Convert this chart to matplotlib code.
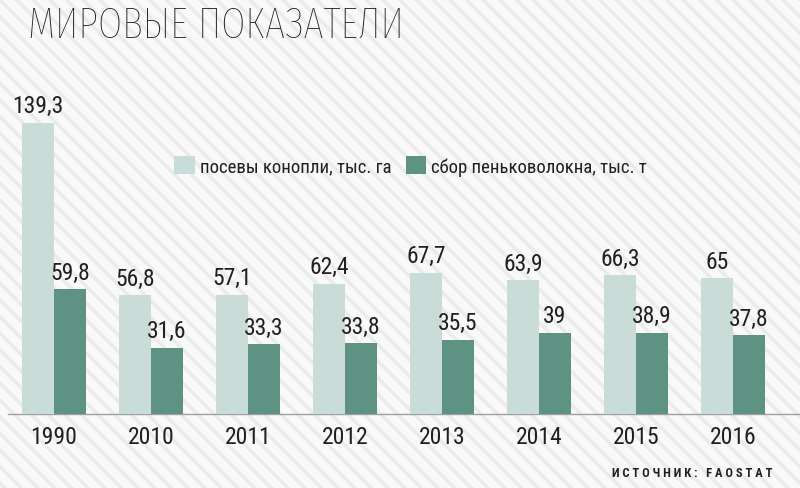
import matplotlib.pyplot as plt
import numpy as np
from matplotlib.patches import Rectangle

# данные
years = ["1990", "2010", "2011", "2012", "2013", "2014", "2015", "2016"]
sowing = [139.3, 56.8, 57.1, 62.4, 67.7, 63.9, 66.3, 65]
fiber = [59.8, 31.6, 33.3, 33.8, 35.5, 39, 38.9, 37.8]
labels = ["посевы конопли, тыс. га", "сбор пеньковолокна, тыс. т"]
title = "МИРОВЫЕ ПОКАЗАТЕЛИ"
source = "И С Т О Ч Н И К :   F A O S T A T"

light = "#c9dcd7"
dark = "#5e9282"
txt = "#231f20"
fam = ["Roboto Condensed", "DejaVu Sans"]
title_fam = ["Fira Sans Extra Condensed", "Roboto Condensed", "DejaVu Sans"]

plt.rcParams["font.family"] = fam
plt.rcParams["hatch.linewidth"] = 2.5

fig = plt.figure(figsize=(8, 4.89), dpi=100)
# фон в косую полоску
fig.patches.append(Rectangle((0, 0), 1, 1, transform=fig.transFigure,
                             facecolor="#f9f9f9", edgecolor="#ebebeb",
                             hatch="\\\\", lw=0, zorder=-10))

ax = fig.add_axes([0, 0, 1, 1])
ax.set_facecolor("none")
x = np.arange(len(years))
w = 0.33
b1 = ax.bar(x - w / 2, sowing, w, color=light, label=labels[0])
b2 = ax.bar(x + w / 2, fiber, w, color=dark, label=labels[1])

for bars in (b1, b2):
    for r in bars:
        v = r.get_height()
        s = f"{v:g}".replace(".", ",")
        ax.annotate(s, (r.get_x() + r.get_width() / 2, v), xytext=(0, 4),
                    textcoords="offset points", ha="center", va="bottom",
                    fontsize=17, color=txt)

for i, y in enumerate(years):
    ax.annotate(y, (i, 0), xytext=(0, -8), textcoords="offset points",
                ha="center", va="top", fontsize=17, color=txt)

ax.set_xlim(-0.557, 7.69)
ax.set_ylim(-35.4, 198.6)
ax.plot([-0.475, 7.69], [0, 0], color="#a0a0a0", lw=1, zorder=0)
ax.axis("off")

ax.legend(loc="center left", bbox_to_anchor=(0.197, 1 - 167 / 489),
          bbox_transform=fig.transFigure, ncol=2, frameon=False,
          fontsize=13.5, handlelength=1.07, handleheight=1.07,
          handletextpad=0.27, columnspacing=0.8, labelcolor=txt)

fig.text(28 / 800, 1 - 26 / 489, title, fontsize=31, color=txt,
         va="center", ha="left", fontweight="light", family=title_fam)
fig.text(773 / 800, 1 - 474 / 489, source, fontsize=9, color=txt,
         va="center", ha="right", fontweight="bold")

fig.savefig("out.png", dpi=100)
